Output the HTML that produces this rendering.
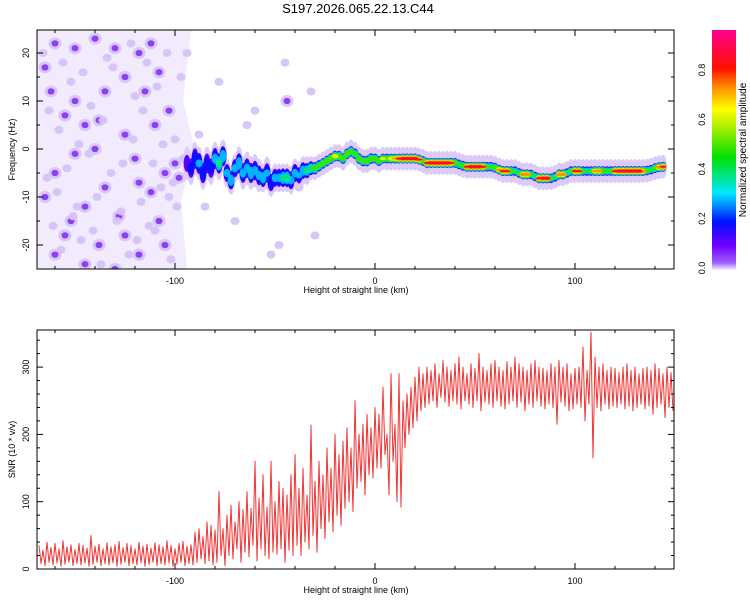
<!DOCTYPE html>
<html><head><meta charset="utf-8">
<style>
body{margin:0;background:#fff;}
svg{display:block;font-family:"Liberation Sans",sans-serif;}
</style></head>
<body>
<svg id="chart" width="750" height="600" viewBox="0 0 750 600">
  <defs>
    <linearGradient id="cbgrad" x1="0" y1="1" x2="0" y2="0">
      <stop offset="0" stop-color="#f4f0ff"/>
      <stop offset="0.03" stop-color="#a060ff"/>
      <stop offset="0.1" stop-color="#7000ff"/>
      <stop offset="0.2" stop-color="#0010ff"/>
      <stop offset="0.32" stop-color="#00e8ff"/>
      <stop offset="0.47" stop-color="#00e000"/>
      <stop offset="0.6" stop-color="#b0f000"/>
      <stop offset="0.67" stop-color="#ffff00"/>
      <stop offset="0.76" stop-color="#ff9000"/>
      <stop offset="0.84" stop-color="#ff1000"/>
      <stop offset="1" stop-color="#ff0090"/>
    </linearGradient>
    <clipPath id="clipTop"><rect x="37" y="30" width="637" height="239"/></clipPath>
    <clipPath id="clipBot"><rect x="37" y="330" width="637" height="240"/></clipPath>
  </defs>
  <text x="358" y="13" font-size="13" text-anchor="middle">S197.2026.065.22.13.C44</text>
  <g id="topPanel"></g>
  <g id="botPanel"></g>
  <g id="cb">
    <rect x="712" y="30" width="24" height="240" fill="url(#cbgrad)"/>
    <text transform="translate(746,150) rotate(-90)" font-size="10" text-anchor="middle">Normalized spectral amplitude</text>
  </g>
</svg>
<script>
// ---------- data ----------
const blobX = [-160,-150,-140,-118,-125,-108,-162,-150,-135,-115,-103,-155,-145,-125,-110,-140,-150,-120,-105,-160,-135,-112,-165,-145,-128,-108,-155,-138,-118,-160,-130,-145,-100,-98,-165,-130,-112,-138,-118,-152,-125,-105,-44,
  -166,-156,-146,-134,-122,-114,-104,-97,-163,-152,-142,-131,-120,-109,-100,-158,-148,-136,-126,-116,-106,-96,-164,-154,-143,-132,-121,-111,-101,-159,-149,-139,-127,-117,-107,-99,-161,-151,-141,-129,-119,-110,-102,-157,-147,-137,-123,-113,-103,-94,-85,-78,-70,-60,-52,-45,-38,-30,-88,-64,-48,-32,-76];
const blobY = [22,21,23,20,15,16,12,10,12,12,8,7,5,3,5,0,-1,-2,-5,-5,-8,-9,-10,-12,-14,-15,-18,-20,-22,-22,-25,-24,-3,-6,17,21,22,6,-7,-15,-18,-20,10,
  20,18,16,19,22,18,20,15,8,14,9,17,11,13,2,4,1,6,-3,8,1,-2,-6,-4,-1,-5,2,-3,-7,-9,-12,-10,-13,-11,-8,-12,-16,-14,-17,-15,-19,-17,-23,-21,-19,-24,-22,-16,-10,20,-12,14,-15,8,-22,18,-8,-18,3,5,-20,12];
const blobA = [.14,.13,.12,.14,.13,.12,.13,.14,.12,.13,.12,.14,.12,.13,.12,.14,.13,.12,.13,.12,.14,.13,.12,.13,.14,.12,.13,.14,.12,.13,.12,.14,.13,.12,.13,.12,.14,.12,.13,.12,.13,.12,.12,
  .06,.07,.05,.08,.06,.07,.05,.06,.07,.05,.08,.06,.07,.05,.06,.08,.05,.07,.06,.05,.08,.06,.07,.05,.06,.08,.07,.05,.06,.07,.05,.08,.06,.07,.05,.06,.07,.08,.05,.06,.07,.05,.06,.08,.07,.05,.06,.05,.05,.04,.05,.04,.05,.04,.05,.04,.06,.04,.05,.04,.05];
const ridgeX = [-94,-92,-90,-88,-86,-84,-82,-80,-78,-76,-74,-72,-70,-68,-66,-64,-62,-60,-58,-56,-54,-52,-50,-48,-46,-44,-42,-40,-38,-36,-34,-32,-30,-28,-26,-24,-22,-20,-18,-16,-14,-12,-10,-8,-6,-4,-2,0,2,4,6,8,10,12,14,16,18,20,22,24,26,28,30,32,34,36,38,40,42,44,46,48,50,52,54,56,58,60,62,64,66,68,70,72,74,76,78,80,82,84,86,88,90,92,94,96,98,100,102,104,106,108,110,112,114,116,118,120,122,124,126,128,130,132,134,136,138,140,142,144,146,148];
const ridgeF = [-3,-4,-2,-3,-5,-3,-4,-2,-3,-1.5,-5,-6.5,-4,-3,-5,-4,-5,-4.5,-5.5,-6,-5,-7,-6,-6,-6,-6,-6.5,-5,-5.5,-4.5,-4.5,-4,-4,-3.5,-3,-2.5,-2,-1.5,-1.5,-2,-1,-0.5,-1,-2,-2.5,-2.5,-2,-2,-2.5,-2,-2,-2,-2,-2,-2,-2,-2,-2,-2.2,-2.5,-2.9,-2.9,-2.9,-2.9,-2.9,-2.9,-2.9,-2.9,-3.2,-3.5,-3.7,-3.7,-3.7,-3.7,-3.7,-3.7,-3.7,-3.9,-4.3,-4.6,-4.6,-4.6,-4.6,-5,-5.3,-5.3,-5.3,-5.7,-6.1,-6.1,-6.1,-6.1,-5.8,-5.3,-5.3,-5,-4.6,-4.6,-4.6,-4.6,-4.6,-4.6,-4.6,-4.6,-4.6,-4.6,-4.6,-4.6,-4.6,-4.6,-4.6,-4.6,-4.6,-4.6,-4.6,-4.5,-4.3,-4,-3.8,-3.7,-3.7,-3.7];
const ridgeA = [.15,.2,.25,.28,.25,.22,.2,.3,.4,.35,.3,.35,.3,.35,.3,.3,.35,.3,.3,.35,.28,.25,.3,.3,.38,.4,.3,.3,.28,.35,.4,.45,.55,.5,.55,.6,.6,.7,.6,.55,.6,.55,.5,.6,.55,.6,.55,.6,.55,.65,.6,.7,.75,.85,.9,.9,.9,.9,.85,.6,.85,.9,.9,.9,.9,.9,.85,.6,.5,.55,.85,.9,.9,.9,.85,.55,.5,.6,.75,.85,.85,.6,.45,.5,.8,.8,.5,.45,.85,.9,.9,.5,.45,.8,.8,.45,.5,.85,.85,.5,.45,.5,.75,.8,.6,.5,.5,.85,.9,.9,.9,.9,.9,.9,.8,.55,.45,.6,.8,.85];
const ridgeH = [3.5,3.5,3.5,3.5,3.5,3.5,3.5,3.5,3.5,3.5,3,3,3,3.5,3.5,3.5,3.5,3.5,3.5,3,3.5,3,3,3,3,3,3,3,3,3,3,2.5,2.5,2.5,2.5,2.5,2.5,2.5,2.5,2.5,2.5,2.5,2.5,2.5,2.5,2.5,2.5,2.5,2.5,2.5,2.5,2.5,2.5,2.5,2.5,2.5,2.5,2.5,2.5,2.5,2.5,2.5,2.5,2.5,2.5,2.5,2.5,2.5,2.5,2.5,2.5,2.5,2.5,2.5,2.5,2.5,2.5,2.5,2.5,2.5,2.5,2.5,2.5,2.5,2.5,2.5,2.5,2.5,2.5,2.5,2.5,2.5,2.5,2.5,2.5,2.5,2.5,2.5,2.5,2.5,2.5,2.5,2.5,2.5,2.5,2.5,2.5,2.5,2.5,2.5,2.5,2.5,2.5,2.5,2.5,2.5,2.5,2.5,2.5,2.5];
const ridgeC = [2.6,2.6,2.6,2.6,2.6,2.6,2.6,2.6,2.4,2.4,2.2,2.2,2.2,2.4,2.4,2.4,2.4,2.4,2.4,2.2,2.4,2.2,2.2,2.2,2.2,2.2,2.2,2.2,2,2,1.8,1.6,1.4,1.3,1.2,1.2,1.2,1.2,1.2,1.2,1.2,1.2,1.2,1.2,1.2,1.2,1.2,1.1,1.1,1.1,1.1,1.1,1.1,1.1,1.1,1.1,1.1,1.1,1.1,1.1,1.1,1.1,1.1,1.1,1.1,1.1,1.1,1.1,1.1,1.1,1.1,1.1,1.1,1.1,1.1,1.1,1.1,1.1,1.1,1.1,1.1,1.1,1.1,1.1,1.1,1.1,1.1,1.1,1.1,1.1,1.1,1.1,1.1,1.1,1.1,1.1,1.1,1.1,1.1,1.1,1.1,1.1,1.1,1.1,1.1,1.1,1.1,1.1,1.1,1.1,1.1,1.1,1.1,1.1,1.1,1.1,1.1,1.1,1.1,1.1];
const snrStart = -168;
const snrHi = [35,28,40,32,38,30,42,33,36,29,38,35,31,50,34,37,30,39,33,36,41,32,38,35,30,40,34,37,31,39,36,33,42,35,30,38,41,34,36,
  55,60,48,70,65,58,115,60,
  80,95,70,100,88,115,90,160,105,140,92,160,100,130,120,110,140,170,
  120,150,110,214,130,160,140,180,150,200,170,190,210,180,
  250,200,215,230,210,240,
  230,270,200,290,215,290,250,260,270,285,300,290,
  300,295,305,290,310,300,295,305,315,300,
  290,305,298,320,300,295,305,310,300,295,
  308,300,315,305,300,295,305,310,300,298,
  295,305,300,310,300,305,290,298,300,330,
  295,352,315,300,305,295,300,298,292,300,
  305,295,300,290,298,300,295,305,298,290,
  300,292];
const snrLo = [8,5,10,6,9,4,7,10,5,8,6,9,4,7,10,5,8,6,9,4,7,10,5,8,6,9,4,7,10,5,8,6,9,4,7,10,5,8,6,
  10,15,8,12,6,10,20,5,
  20,15,30,10,25,18,35,12,30,20,15,25,22,30,10,28,20,35,
  20,40,30,50,25,60,45,70,55,80,65,90,100,85,
  120,130,110,140,135,150,
  150,170,110,160,100,92,180,200,210,220,235,240,
  245,250,240,255,248,242,250,245,238,250,
  245,240,250,235,248,245,240,250,242,238,
  245,250,240,248,235,245,240,250,242,238,
  245,240,215,248,242,235,238,245,240,220,
  245,165,240,235,245,238,242,240,245,238,
  242,235,240,245,238,242,230,240,245,225,
  240,235];
const xTicksMajor = [-100,0,100];
const topYTicks = [20,10,0,-10,-20];
const botYTicks = [0,100,200,300];
const cbTicks = [0.0,0.2,0.4,0.6,0.8];

// ---------- scales ----------
const NS = 'http://www.w3.org/2000/svg';
const xS = v => 375 + 2 * v;
const yT = f => 149 - 4.8 * f;
const yB = s => 569 - 0.673 * s;
const cbY = a => 268 - 247.5 * a;
const stops = [[0,[244,240,255]],[0.03,[160,96,255]],[0.1,[112,0,255]],[0.2,[0,16,255]],[0.32,[0,232,255]],[0.47,[0,224,0]],[0.6,[176,240,0]],[0.67,[255,255,0]],[0.76,[255,144,0]],[0.84,[255,16,0]],[1,[255,0,144]]];
function cmap(a){
  for(let i=1;i<stops.length;i++){
    if(a<=stops[i][0]){
      const t=(a-stops[i-1][0])/(stops[i][0]-stops[i-1][0]);
      const c=stops[i-1][1].map((v,k)=>Math.round(v+(stops[i][1][k]-v)*t));
      return 'rgb('+c.join(',')+')';
    }
  }
  return 'rgb(255,0,144)';
}
function mk(tag, attrs, parent){
  const e=document.createElementNS(NS,tag);
  for(const k in attrs) e.setAttribute(k,attrs[k]);
  parent.appendChild(e);
  return e;
}
const topG = document.getElementById('topPanel');
const botG = document.getElementById('botPanel');

// ---------- spectrogram ----------
const spec = mk('g',{'clip-path':'url(#clipTop)'},topG);


const haze = mk('path',{d:'M37 30 L'+xS(-92)+' 30 L'+xS(-96)+' 100 L'+xS(-90)+' 150 L'+xS(-97)+' 200 L'+xS(-94)+' 269 L37 269 Z',fill:'#f1ebfd'},spec);


for(let i=0;i<blobX.length;i++){
  const a=blobA[i];
  const dark = a>0.1;
  const r = dark ? 3.5 : 4.5;
  if(dark){
    const h = mk('ellipse',{cx:xS(blobX[i]),cy:yT(blobY[i]),rx:6.5,ry:6,fill:'#d2bdf8',opacity:0.8},spec);
    
    
  }
  const b = mk('ellipse',{cx:xS(blobX[i]),cy:yT(blobY[i]),rx:r,ry:r*0.9,fill:dark?'#8a38f0':'#d6c3f8',opacity:0.95},spec);
  
  
}
const levels=[0.02,0.08,0.15,0.25,0.35,0.47,0.6,0.72,0.82,0.88];
levels.forEach((L,li)=>{
  for(let i=0;i<ridgeX.length;i++){
    const a=ridgeA[i];
    if(a<=L) continue;
    let ry;
    if(li===0) ry=ridgeH[i];
    else ry=ridgeC[i]*Math.sqrt(1-L/a);
    const e=mk('ellipse',{cx:xS(ridgeX[i]),cy:yT(ridgeF[i]),rx:li===0?4:3.4,ry:ry*4.8,fill:li===0?'#dccbf9':cmap(L+0.04)},spec);
    
    
  }
});

// ---------- axes helper ----------
function axes(g, T, B, yTicks, yScale, yMinorStep, yMin, yMax, yTitle, xLabY, xTitleY){
  const fr=mk('rect',{x:37,y:T,width:637,height:B-T,fill:'none',stroke:'#000','stroke-width':1},g);
  
  
  for(let v=-160; v<=140; v+=20){
    const x=xS(v), len = (v%100===0)?6:3;
    const t1=mk('line',{x1:x,y1:B,x2:x,y2:B-len,stroke:'#000'},g);
    
    
    const t2=mk('line',{x1:x,y1:T,x2:x,y2:T+len,stroke:'#000'},g);
    
    
  }
  xTicksMajor.forEach(v=>{
    const t=mk('text',{x:xS(v),y:xLabY,'font-size':9,'text-anchor':'middle'},g);
    t.textContent=v;
    
    
  });
  const xt=mk('text',{x:356,y:xTitleY,'font-size':9,'text-anchor':'middle'},g);
  xt.textContent='Height of straight line (km)';
  
  
  for(let v=yMin; v<=yMax; v+=yMinorStep){
    const y=yScale(v);
    if(y<T||y>B) continue;
    const major = yTicks.indexOf(v)>=0;
    const len = major?6:3;
    const a=mk('line',{x1:37,y1:y,x2:37+len,y2:y,stroke:'#000'},g);
    
    
    const b=mk('line',{x1:674,y1:y,x2:674-len,y2:y,stroke:'#000'},g);
    
    
  }
  yTicks.forEach(v=>{
    const y=yScale(v);
    const t=mk('text',{transform:'translate(29,'+y+') rotate(-90)','font-size':9,'text-anchor':'middle'},g);
    t.textContent=v;
    
    
  });
  const yt=mk('text',{transform:'translate(15,'+((T+B)/2)+') rotate(-90)','font-size':9,'text-anchor':'middle'},g);
  yt.textContent=yTitle;
  
  
}
axes(topG,30,269,topYTicks,yT,5,-25,25,'Frequency (Hz)',284,293);

// ---------- colorbar ticks ----------
const cbG=document.getElementById('cb');
cbTicks.forEach(v=>{
  const y=cbY(v);
  const t=mk('text',{transform:'translate(705,'+y+') rotate(-90)','font-size':9,'text-anchor':'middle'},cbG);
  t.textContent=v.toFixed(1);
  
  
});

// ---------- SNR line ----------
let d='';
for(let i=0;i<snrHi.length;i++){
  const x=snrStart+2*i;
  d += (i===0?'M':'L')+xS(x).toFixed(1)+' '+yB(snrHi[i]).toFixed(1)+' L'+xS(x+1).toFixed(1)+' '+yB(snrLo[i]).toFixed(1)+' ';
}
const lg=mk('g',{'clip-path':'url(#clipBot)'},botG);


const line=mk('path',{d:d,fill:'none',stroke:'#f03535','stroke-width':1,'stroke-linejoin':'round'},lg);


axes(botG,330,569,botYTicks,yB,20,0,360,'SNR (10 * v/v)',584,593);
</script>
</body></html>
